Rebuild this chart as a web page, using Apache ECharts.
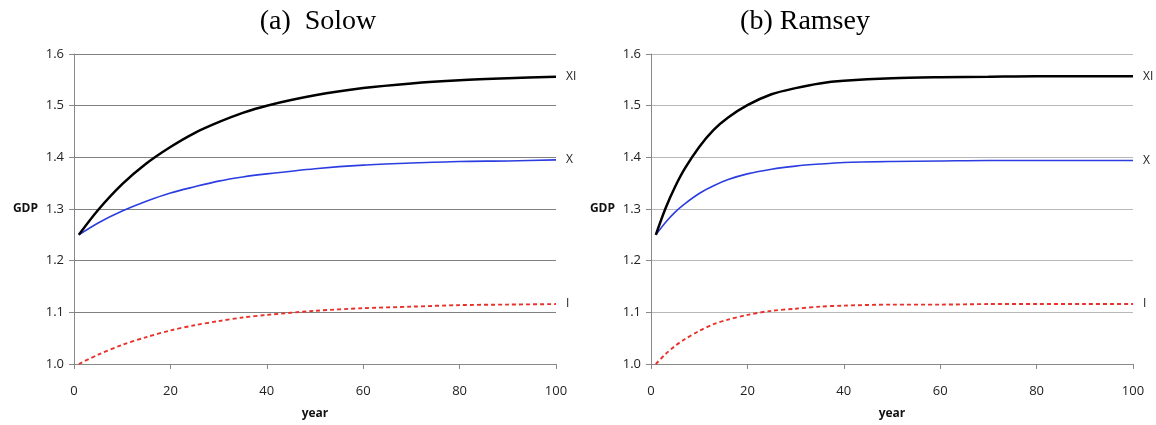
<!DOCTYPE html>
<html>
<head>
<meta charset="utf-8">
<script src="https://cdn.jsdelivr.net/npm/echarts@6/dist/echarts.min.js"></script>
<style>html,body{margin:0;padding:0;background:#fff}#c{width:1156px;height:425px}</style>
</head>
<body>
<div id="c"></div>
<script>
// ---- Data ----
const yTicks = [1.0, 1.1, 1.2, 1.3, 1.4, 1.5, 1.6];
const xTicks = [0, 20, 40, 60, 80, 100];

const solowYears = [1, 5, 10, 15, 20, 25, 30, 35, 40, 50, 60, 70, 80, 90, 100];
const solowXI = [1.250, 1.298, 1.348, 1.388, 1.420, 1.447, 1.468, 1.486, 1.500, 1.520, 1.534, 1.543, 1.549, 1.553, 1.556];
const solowX  = [1.250, 1.273, 1.296, 1.315, 1.331, 1.343, 1.354, 1.362, 1.368, 1.378, 1.385, 1.389, 1.392, 1.393, 1.395];
const solowI  = [1.000, 1.018, 1.037, 1.052, 1.065, 1.075, 1.083, 1.090, 1.095, 1.103, 1.108, 1.111, 1.114, 1.115, 1.116];

const ramseyYears = [1, 3, 5, 7, 10, 13, 16, 20, 25, 30, 35, 40, 50, 60, 70, 80, 90, 100];
const ramseyXI = [1.250, 1.301, 1.343, 1.378, 1.420, 1.453, 1.477, 1.501, 1.522, 1.534, 1.543, 1.548, 1.553, 1.555, 1.556, 1.557, 1.557, 1.557];
const ramseyX  = [1.250, 1.274, 1.294, 1.310, 1.330, 1.345, 1.357, 1.368, 1.377, 1.383, 1.387, 1.390, 1.392, 1.393, 1.394, 1.394, 1.394, 1.394];
const ramseyI  = [1.000, 1.019, 1.035, 1.048, 1.064, 1.077, 1.086, 1.095, 1.103, 1.107, 1.111, 1.113, 1.115, 1.115, 1.116, 1.116, 1.116, 1.116];

const titles = ['(a)  Solow', '(b) Ramsey'];
const xName = 'year';
const yName = 'GDP';
const seriesNames = ['XI', 'X', 'I'];

// ---- Chart ----
const pair = (xs, ys) => xs.map((x, i) => [x, ys[i]]);
const font = '"Open Sans", "Liberation Sans", sans-serif';
const chart = echarts.init(document.getElementById('c'), null, {renderer: 'canvas'});

function xAxis(gi) {
  return {
    type: 'value', gridIndex: gi, min: xTicks[0], max: xTicks[xTicks.length - 1], interval: 20,
    name: xName, nameLocation: 'middle', nameGap: 44,
    nameTextStyle: {fontFamily: font, fontWeight: 'bold', fontSize: 12, color: '#111'},
    axisLine: {show: true, lineStyle: {color: '#888', width: 1}},
    axisTick: {show: true, length: 5, lineStyle: {color: '#888'}},
    axisLabel: {fontFamily: font, fontSize: 13, color: '#222', margin: 21},
    splitLine: {show: false}
  };
}
function yAxis(gi, gridColor) {
  return {
    type: 'value', gridIndex: gi, min: yTicks[0], max: yTicks[yTicks.length - 1], interval: 0.1,
    name: yName, nameLocation: 'middle', nameRotate: 0, nameGap: 36,
    nameTextStyle: {fontFamily: font, fontWeight: 'bold', fontSize: 12, color: '#111', align: 'right', verticalAlign: 'middle'},
    axisLine: {show: true, lineStyle: {color: '#888', width: 1}},
    axisTick: {show: true, length: 5, lineStyle: {color: '#888'}},
    axisLabel: {fontFamily: font, fontSize: 13, color: '#222', margin: 10, formatter: v => v.toFixed(1)},
    splitLine: {show: true, lineStyle: {color: gridColor, width: 1}}
  };
}
function line(name, gi, data, color, width, dashed) {
  return {
    name: name, type: 'line', xAxisIndex: gi, yAxisIndex: gi, data: data,
    smooth: 0.3, symbol: 'none', silent: true,
    lineStyle: {color: color, width: width, type: dashed ? [4, 3] : 'solid'},
    endLabel: {show: true, formatter: name, color: '#222', fontFamily: font, fontSize: 12, distance: 10},
    z: name === 'XI' ? 4 : 3
  };
}

chart.setOption({
  animation: false,
  backgroundColor: '#fff',
  title: [
    {text: titles[0], left: 313, top: 3, textAlign: 'center', textStyle: {fontFamily: '"Liberation Serif", serif', fontWeight: 'normal', fontSize: 28, color: '#000'}},
    {text: titles[1], left: 800, top: 3, textAlign: 'center', textStyle: {fontFamily: '"Liberation Serif", serif', fontWeight: 'normal', fontSize: 28, color: '#000'}}
  ],
  grid: [
    {left: 74, right: 600, top: 54, bottom: 59},
    {left: 651, right: 23, top: 54, bottom: 56}
  ],
  xAxis: [xAxis(0), xAxis(1)],
  yAxis: [yAxis(0, '#808080'), yAxis(1, '#b8b8b8')],
  series: [
    line(seriesNames[0], 0, pair(solowYears, solowXI), '#000000', 2.5, false),
    line(seriesNames[1], 0, pair(solowYears, solowX), '#2b3de0', 1.6, false),
    line(seriesNames[2], 0, pair(solowYears, solowI), '#e8312a', 1.9, true),
    line(seriesNames[0], 1, pair(ramseyYears, ramseyXI), '#000000', 2.5, false),
    line(seriesNames[1], 1, pair(ramseyYears, ramseyX), '#2b3de0', 1.6, false),
    line(seriesNames[2], 1, pair(ramseyYears, ramseyI), '#e8312a', 1.9, true)
  ]
});
</script>
</body>
</html>
